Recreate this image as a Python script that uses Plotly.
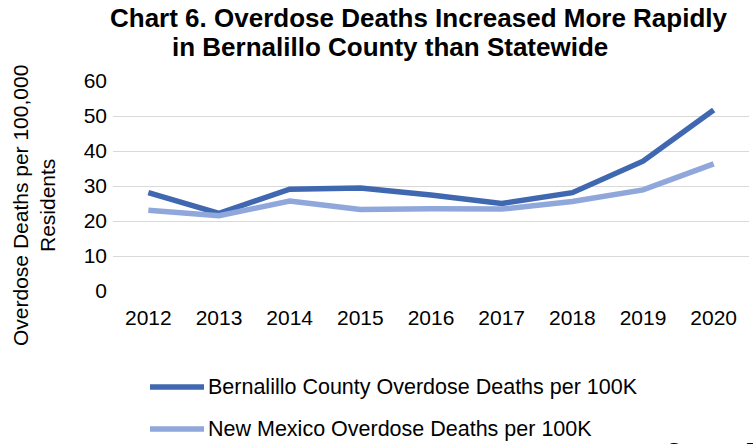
import plotly.graph_objects as go

# Overdose deaths per 100,000 residents
years = [2012, 2013, 2014, 2015, 2016, 2017, 2018, 2019, 2020]
bernalillo = [28.1, 22.2, 29.1, 29.4, 27.4, 25.0, 28.1, 37.1, 51.7]
new_mexico = [23.1, 21.5, 25.7, 23.3, 23.5, 23.4, 25.6, 28.9, 36.3]

series_names = [
    "Bernalillo County Overdose Deaths per 100K",
    "New Mexico Overdose Deaths per 100K",
]
series_colors = ["#4068B0", "#8FA7DA"]
y_ticks = [0, 10, 20, 30, 40, 50, 60]

W, H = 753, 444
L, R, T, B = 113, 4, 81, 153
FONT = "Liberation Sans, Arial, sans-serif"
TXT = 21


def py(p):
    """Pixel row -> paper y."""
    return (H - B - p) / (H - T - B)


def px(p):
    """Pixel column -> paper x."""
    return (p - L) / (W - L - R)


fig = go.Figure()
for name, vals, col in zip(series_names, [bernalillo, new_mexico], series_colors):
    fig.add_trace(go.Scatter(
        x=years, y=vals, name=name, mode="lines",
        line=dict(color=col, width=5.5), showlegend=False,
    ))

# Custom legend below the plot
legend_rows = [387, 429]
for name, col, row in zip(series_names, series_colors, legend_rows):
    fig.add_shape(type="line", xref="paper", yref="paper",
                  x0=px(150), x1=px(204), y0=py(row), y1=py(row),
                  line=dict(color=col, width=5.5))
    fig.add_annotation(text=name, xref="paper", yref="paper",
                       x=px(206), y=py(row), xanchor="left", yanchor="middle",
                       showarrow=False, font=dict(size=21.5, color="#000000"))

# Title lines
fig.add_annotation(text="<b>Chart 6. Overdose Deaths Increased More Rapidly</b>",
                   xref="paper", yref="paper", x=px(419), y=py(18),
                   xanchor="center", yanchor="middle", showarrow=False,
                   font=dict(size=26, color="#000000"))
fig.add_annotation(text="<b>in Bernalillo County than Statewide</b>",
                   xref="paper", yref="paper", x=px(390), y=py(47),
                   xanchor="center", yanchor="middle", showarrow=False,
                   font=dict(size=26, color="#000000"))

# Y axis title
fig.add_annotation(text="Overdose Deaths per 100,000<br>Residents",
                   xref="paper", yref="paper", x=px(34), y=py(206),
                   xanchor="center", yanchor="middle", textangle=-90,
                   showarrow=False, font=dict(size=TXT, color="#000000"))

fig.add_annotation(text="Source: DOH", xref="paper", yref="paper",
                   x=px(665), y=py(436), xanchor="left", yanchor="top",
                   showarrow=False, font=dict(size=TXT, color="#000000"))

fig.update_layout(
    width=W, height=H,
    margin=dict(l=L, r=R, t=T, b=B),
    paper_bgcolor="white", plot_bgcolor="white",
    font=dict(family=FONT, size=TXT, color="#000000"),
    xaxis=dict(range=[2011.5, 2020.5], tickvals=years,
               ticktext=[str(y) for y in years], showgrid=False,
               zeroline=False, showline=False, ticks="",
               ticklabelstandoff=12, tickfont=dict(size=TXT)),
    yaxis=dict(range=[0, 60], tickvals=y_ticks, showgrid=True,
               gridcolor="#D9D9D9", gridwidth=1.3, zeroline=False,
               showline=False, ticks="", ticklabelstandoff=5,
               tickfont=dict(size=TXT)),
)

fig.write_html("out.html")
